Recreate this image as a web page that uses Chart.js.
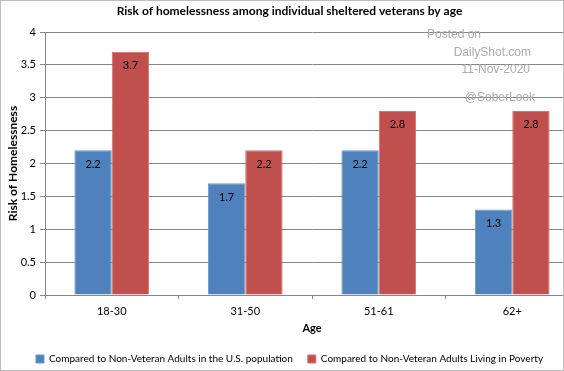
<!DOCTYPE html>
<html>
<head>
<meta charset="utf-8">
<script src="https://cdn.jsdelivr.net/npm/chart.js@4/dist/chart.umd.min.js"></script>
<style>
  html, body { margin: 0; padding: 0; background: #fff; }
  #wrap { position: relative; width: 564px; height: 371px; overflow: hidden; }
  #frame { position: absolute; left: 0; top: 0; width: 564px; height: 371px; box-sizing: border-box;
           border: 1px solid #bdbdbd; pointer-events: none; }
  canvas { position: absolute; left: 0; top: 0; }
</style>
</head>
<body>
<div id="wrap">
  <canvas id="chart" width="582" height="371"></canvas>
  <div id="frame"></div>
</div>
<script>
const ageGroups = ["18-30", "31-50", "51-61", "62+"];
const vsUsPopulation = [2.2, 1.7, 2.2, 1.3];
const vsPovertyAdults = [3.7, 2.2, 2.8, 2.8];
const yTicks = [0, 0.5, 1, 1.5, 2, 2.5, 3, 3.5, 4];

const FONT = "Lato, 'Liberation Sans', sans-serif";
const BOTTOM_PAD = -3;

// value labels just under the top of each bar
const barLabels = {
  id: "barLabels",
  afterDatasetsDraw(chart) {
    const ctx = chart.ctx;
    ctx.save();
    ctx.font = "11px " + FONT;
    ctx.fillStyle = "#000";
    ctx.textAlign = "center";
    ctx.textBaseline = "middle";
    chart.data.datasets.forEach((ds, i) => {
      chart.getDatasetMeta(i).data.forEach((bar, j) => {
        ctx.fillText(ds.data[j].toFixed(1), bar.x, bar.y + 14);
      });
    });
    ctx.restore();
  },
};

// "Posted on DailyShot.com" stamp
const stamp = {
  id: "stamp",
  afterDraw(chart) {
    const ctx = chart.ctx;
    ctx.save();
    ctx.font = "12px 'Liberation Sans', Arial, sans-serif";
    ctx.fillStyle = "#ababab";
    ctx.textBaseline = "middle";
    ctx.textAlign = "left";
    ctx.fillText("Posted on", 427, 35);
    ctx.textAlign = "right";
    ctx.fillText("DailyShot.com", 531, 53);
    ctx.fillText("11-Nov-2020", 530, 70);
    ctx.fillText("@SoberLook", 535, 98);
    ctx.restore();
  },
};

new Chart(document.getElementById("chart"), {
  type: "bar",
  data: {
    labels: ageGroups,
    datasets: [
      {
        label: "Compared to Non-Veteran Adults in the U.S. population",
        data: vsUsPopulation,
        backgroundColor: "#4f81bd",
        borderColor: "#6b96cc",
        borderWidth: 1,
      },
      {
        label: "Compared to Non-Veteran Adults Living in Poverty",
        data: vsPovertyAdults,
        backgroundColor: "#c0504d",
        borderColor: "#d46f6c",
        borderWidth: 1,
      },
    ],
  },
  plugins: [barLabels, stamp],
  options: {
    responsive: false,
    animation: false,
    devicePixelRatio: 1,
    layout: { padding: { top: 0, left: 0, right: 3, bottom: BOTTOM_PAD } },
    datasets: { bar: { barPercentage: 1, categoryPercentage: 0.56 } },
    plugins: {
      title: {
        display: true,
        text: "Risk of homelessness among individual sheltered veterans by age",
        color: "#000",
        font: { family: FONT, size: 12, weight: "bold" },
        padding: { top: 4, bottom: 13.6 },
      },
      legend: {
        position: "bottom",
        labels: {
          color: "#000",
          font: { family: FONT, size: 10 },
          boxWidth: 8,
          boxHeight: 8,
          padding: 15,
        },
      },
      tooltip: { enabled: false },
    },
    scales: {
      x: {
        afterFit: (s) => { s.height = 371 - BOTTOM_PAD - 295 - s.chart.legend.height; },
        grid: { display: true, drawOnChartArea: false, offset: true, tickLength: 4, color: "#868686" },
        border: { color: "#868686" },
        ticks: { color: "#000", font: { family: FONT, size: 11 }, padding: 6, autoSkip: false, maxRotation: 0 },
        title: {
          display: true,
          text: "Age",
          color: "#000",
          font: { family: FONT, size: 11, weight: "bold" },
          padding: { top: 2, bottom: 4 },
        },
      },
      y: {
        min: 0,
        max: 4,
        afterFit: (s) => { s.width = 45; },
        afterBuildTicks: (s) => { s.ticks = yTicks.map((v) => ({ value: v })); },
        grid: { color: "#868686", tickLength: 5 },
        border: { color: "#868686" },
        ticks: { color: "#000", font: { family: FONT, size: 11 }, padding: 4, callback: (v) => String(v) },
        title: {
          display: true,
          text: "Risk of Homelessness",
          color: "#000",
          font: { family: FONT, size: 12, weight: "bold" },
          padding: { top: 6, bottom: 0 },
        },
      },
    },
  },
});
</script>
</body>
</html>
